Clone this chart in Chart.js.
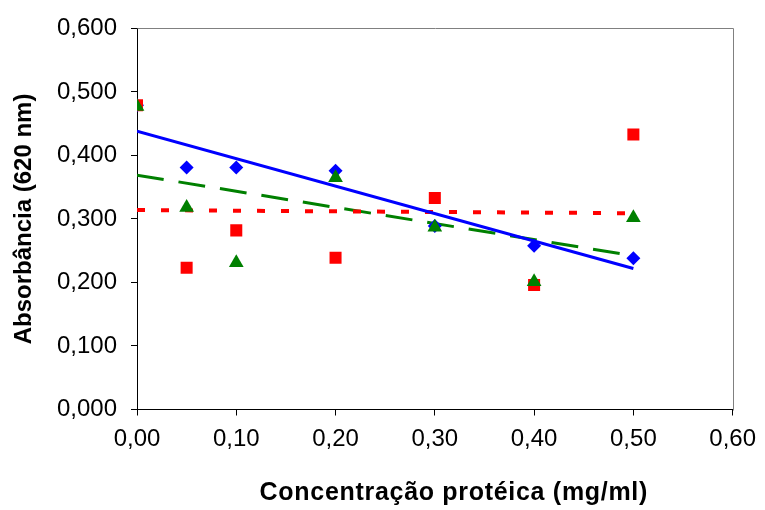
<!DOCTYPE html>
<html>
<head>
<meta charset="utf-8">
<script src="https://cdn.jsdelivr.net/npm/chart.js@4/dist/chart.umd.min.js"></script>
<style>
html,body{margin:0;padding:0;background:#fff;}
#wrap{width:765px;height:510px;}
</style>
</head>
<body>
<div id="wrap"><canvas id="c" width="765" height="510"></canvas></div>
<script>
// Data
const concentrations = [0.00, 0.05, 0.10, 0.20, 0.30, 0.40, 0.50];
const seriesBlue  = [0.479, 0.381, 0.381, 0.376, 0.289, 0.258, 0.238];
const seriesRed   = [0.479, 0.223, 0.282, 0.239, 0.333, 0.196, 0.433];
const seriesGreen = [0.477, 0.318, 0.231, 0.365, 0.287, 0.201, 0.302];
// Trend lines (endpoints read at x = 0.00 and x = 0.50)
const trendX     = [0.00, 0.50];
const trendBlue  = [0.438, 0.222];
const trendRed   = [0.314, 0.309];
const trendGreen = [0.369, 0.242];
const xTickLabels = ['0,00','0,10','0,20','0,30','0,40','0,50','0,60'];
const yTickLabels = ['0,000','0,100','0,200','0,300','0,400','0,500','0,600'];
const xTitle = 'Concentração protéica (mg/ml)';
const yTitle = 'Absorbância (620 nm)';

const pts = (xs, ys) => xs.map((x, i) => ({x: x, y: ys[i]}));

const boxPlugin = {
  id: 'box',
  beforeDatasetsDraw(chart) {
    const a = chart.chartArea, ctx = chart.ctx;
    ctx.save();
    ctx.strokeStyle = '#808080';
    ctx.lineWidth = 1;
    ctx.beginPath();
    ctx.moveTo(Math.round(a.left) + 0.5, Math.round(a.top) + 0.5);
    ctx.lineTo(Math.round(a.right) + 0.5, Math.round(a.top) + 0.5);
    ctx.lineTo(Math.round(a.right) + 0.5, Math.round(a.bottom) + 0.5);
    ctx.stroke();
    ctx.restore();
  }
};

// X-axis title, drawn slightly right of centre with wider letter spacing as in the reference
const xTitlePlugin = {
  id: 'xTitle',
  afterDraw(chart) {
    const a = chart.chartArea, ctx = chart.ctx;
    ctx.save();
    ctx.font = 'bold 25px "Liberation Sans"';
    if ('letterSpacing' in ctx) ctx.letterSpacing = '0.7px';
    ctx.fillStyle = '#000';
    ctx.textAlign = 'center';
    ctx.textBaseline = 'middle';
    ctx.fillText(xTitle, (a.left + a.right) / 2 + 19, 493);
    ctx.restore();
  }
};

new Chart(document.getElementById('c'), {
  type: 'scatter',
  data: {
    datasets: [
      { label: 'blue', data: pts(concentrations, seriesBlue), pointStyle: 'rectRot', pointRadius: 7,
        backgroundColor: '#0000FF', borderColor: '#0000FF', borderWidth: 0, order: 3 },
      { label: 'red', data: pts(concentrations, seriesRed), pointStyle: 'rect', pointRadius: 8.5,
        backgroundColor: '#FF0000', borderColor: '#FF0000', borderWidth: 0, order: 2 },
      { label: 'green', data: pts(concentrations, seriesGreen), pointStyle: 'triangle', pointRadius: 8.5,
        backgroundColor: '#008000', borderColor: '#008000', borderWidth: 0, order: 1 },
      { label: 'trendGreen', type: 'line', data: pts(trendX, trendGreen), showLine: true, pointRadius: 0,
        borderColor: '#008000', borderWidth: 3, borderDash: [27, 15], fill: false, order: 6 },
      { label: 'trendRed', type: 'line', data: pts(trendX, trendRed), showLine: true, pointRadius: 0,
        borderColor: '#FF0000', borderWidth: 4, borderDash: [8, 16], fill: false, order: 5 },
      { label: 'trendBlue', type: 'line', data: pts(trendX, trendBlue), showLine: true, pointRadius: 0,
        borderColor: '#0000FF', borderWidth: 3, fill: false, order: 4 }
    ]
  },
  options: {
    responsive: false,
    animation: false,
    events: [],
    layout: { padding: { left: 10, right: 30, top: 25, bottom: 0 } },
    plugins: { legend: { display: false }, tooltip: { enabled: false } },
    scales: {
      x: {
        type: 'linear', min: 0, max: 0.6,
        ticks: { stepSize: 0.1, color: '#000', padding: 9,
                 font: { family: 'Liberation Sans', size: 24 },
                 callback: (v, i) => xTickLabels[i] },
        grid: { drawOnChartArea: false, drawTicks: true, tickLength: 6, color: '#000' },
        border: { color: '#000', width: 1 },
        title: { display: false, text: xTitle },
        afterFit: (s) => { s.height = 100.5; }
      },
      y: {
        type: 'linear', min: 0, max: 0.6,
        ticks: { stepSize: 0.1, color: '#000', padding: 14,
                 font: { family: 'Liberation Sans', size: 24 },
                 callback: (v, i) => yTickLabels[i] },
        grid: { drawOnChartArea: false, drawTicks: true, tickLength: 6, color: '#000' },
        border: { color: '#000', width: 1 },
        title: { display: true, text: yTitle, color: '#000', padding: { top: 0, bottom: 0 },
                 font: { family: 'Liberation Sans', size: 24, weight: 'bold' } },
        afterFit: (s) => { s.width = 127; }
      }
    }
  },
  plugins: [boxPlugin, xTitlePlugin]
});
</script>
</body>
</html>
